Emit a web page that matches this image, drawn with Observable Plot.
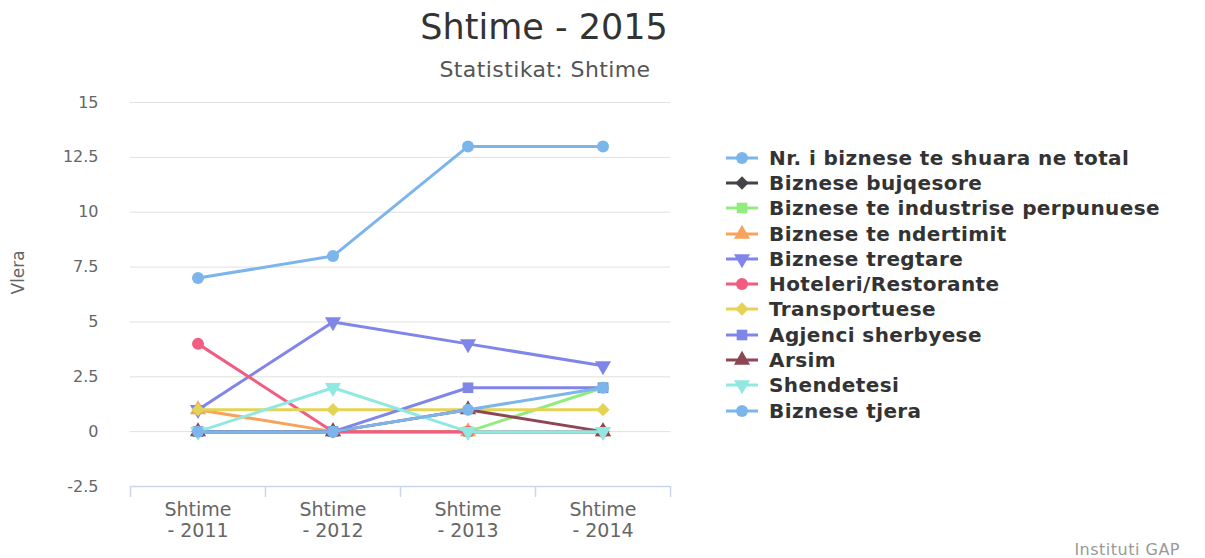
<!DOCTYPE html>
<html>
<head>
<meta charset="utf-8">
<script src="https://cdn.jsdelivr.net/npm/d3@7"></script>
<script src="https://cdn.jsdelivr.net/npm/@observablehq/plot@0.6"></script>
<style>
  html, body { margin: 0; padding: 0; background: #fff; }
  body { width: 1205px; height: 558px; position: relative; overflow: hidden; font-family: "DejaVu Sans", sans-serif; }
  #chart { position: absolute; left: 0; top: 0; }
  .title { position: absolute; left: 0; width: 1088px; text-align: center; top: 7px; font-size: 35px; line-height: 40px; color: #333; }
  .subtitle { position: absolute; left: 0; width: 1090px; text-align: center; top: 57px; font-size: 22px; line-height: 26px; letter-spacing: 0.4px; color: #555; }
  .credit { position: absolute; right: 25px; top: 540px; font-size: 16px; letter-spacing: 0.5px; color: #999; }
  #legend { position: absolute; left: 725px; top: 145px; }
  .item { height: 25.3px; display: flex; align-items: center; font-weight: bold; font-size: 20px; letter-spacing: 0.4px; color: #333; white-space: nowrap; }
  .item svg { margin-right: 10px; }
</style>
</head>
<body>
<div id="chart"></div>
<div class="title">Shtime - 2015</div>
<div class="subtitle">Statistikat: Shtime</div>
<div id="legend"></div>
<div class="credit">Instituti GAP</div>
<script>
// ---- data ----
const categories = ["Shtime - 2011", "Shtime - 2012", "Shtime - 2013", "Shtime - 2014"];
const seriesNames = [
  "Nr. i biznese te shuara ne total",
  "Biznese bujqesore",
  "Biznese te industrise perpunuese",
  "Biznese te ndertimit",
  "Biznese tregtare",
  "Hoteleri/Restorante",
  "Transportuese",
  "Agjenci sherbyese",
  "Arsim",
  "Shendetesi",
  "Biznese tjera"
];
const totalValues      = [7, 8, 13, 13];
const bujqesoreValues  = [0, 0, 0, 0];
const industriaValues  = [0, 0, 0, 2];
const ndertimiValues   = [1, 0, 0, 0];
const tregtareValues   = [1, 5, 4, 3];
const hoteleriValues   = [4, 0, 0, 0];
const transportValues  = [1, 1, 1, 1];
const agjenciValues    = [0, 0, 2, 2];
const arsimValues      = [0, 0, 1, 0];
const shendetesiValues = [0, 2, 0, 0];
const tjeraValues      = [0, 0, 1, 2];
const yTicks = [-2.5, 0, 2.5, 5, 7.5, 10, 12.5, 15];
const palette = ["#7cb5ec", "#434348", "#90ed7d", "#f7a35c", "#8085e9", "#f15c80", "#e4d354", "#8085e8", "#8d4653", "#91e8e1", "#7cb5ec"];

const seriesValues = [totalValues, bujqesoreValues, industriaValues, ndertimiValues, tregtareValues,
  hoteleriValues, transportValues, agjenciValues, arsimValues, shendetesiValues, tjeraValues];

// triangle-down symbol
const triangleDown = {
  draw(context, size) {
    const sqrt3 = Math.sqrt(3);
    const y = -Math.sqrt(size / (sqrt3 * 3));
    context.moveTo(0, -y * 2);
    context.lineTo(-sqrt3 * y, y);
    context.lineTo(sqrt3 * y, y);
    context.closePath();
  }
};
const symbolCycle = [d3.symbolCircle, d3.symbolDiamond2, d3.symbolSquare, d3.symbolTriangle, triangleDown];

const rows = [];
seriesNames.forEach((name, s) => {
  seriesValues[s].forEach((v, i) => rows.push({series: name, s, xi: i, value: v}));
});

const marks = [
  Plot.gridY({ticks: yTicks, stroke: "#e0e0e0", strokeOpacity: 1}),
  Plot.ruleY([yTicks[0]], {stroke: "#ccd6eb", strokeWidth: 1.5}),
  Plot.axisX({ticks: d3.range(categories.length + 1).map(i => i - 0.5), tickSize: 11, tickFormat: () => "", stroke: "#ccd6eb", strokeWidth: 1.5, label: null}),
  Plot.axisX({ticks: d3.range(categories.length), tickSize: 0, tickPadding: 14, tickFormat: i => categories[i].replace(" - ", "\n- "),
    fontSize: 19, fill: "#666", lineHeight: 1.12, label: null}),
  Plot.axisY({ticks: yTicks, tickSize: 0, tickPadding: 32, tickFormat: d => String(d), fontSize: 16, fill: "#666", label: null}),
  Plot.text(["Vlera"], {frameAnchor: "left", dx: -112, rotate: -90, fontSize: 17, fill: "#666"})
];
seriesNames.forEach((name, s) => {
  const data = rows.filter(d => d.s === s);
  marks.push(Plot.line(data, {x: "xi", y: "value", stroke: palette[s], strokeWidth: 3}));
  marks.push(Plot.dot(data, {x: "xi", y: "value", fill: palette[s], r: 6, symbol: symbolCycle[s % 5]}));
});

const chart = Plot.plot({
  width: 1205,
  height: 558,
  marginLeft: 130,
  marginRight: 535,
  marginTop: 102,
  marginBottom: 72,
  style: {fontFamily: "DejaVu Sans, sans-serif", background: "transparent"},
  x: {type: "linear", domain: [-0.5, categories.length - 0.5], label: null},
  y: {domain: [yTicks[0], yTicks[yTicks.length - 1]], label: null},
  marks
});
document.getElementById("chart").appendChild(chart);

// legend
const legend = d3.select("#legend");
seriesNames.forEach((name, s) => {
  const item = legend.append("div").attr("class", "item");
  const svg = item.append("svg").attr("width", 34).attr("height", 20);
  svg.append("line").attr("x1", 1).attr("x2", 33).attr("y1", 10).attr("y2", 10)
    .attr("stroke", palette[s]).attr("stroke-width", 3);
  svg.append("path").attr("transform", "translate(17,10)")
    .attr("d", d3.symbol(symbolCycle[s % 5], Math.PI * 36)()).attr("fill", palette[s]);
  item.append("span").text(name);
});
</script>
</body>
</html>
